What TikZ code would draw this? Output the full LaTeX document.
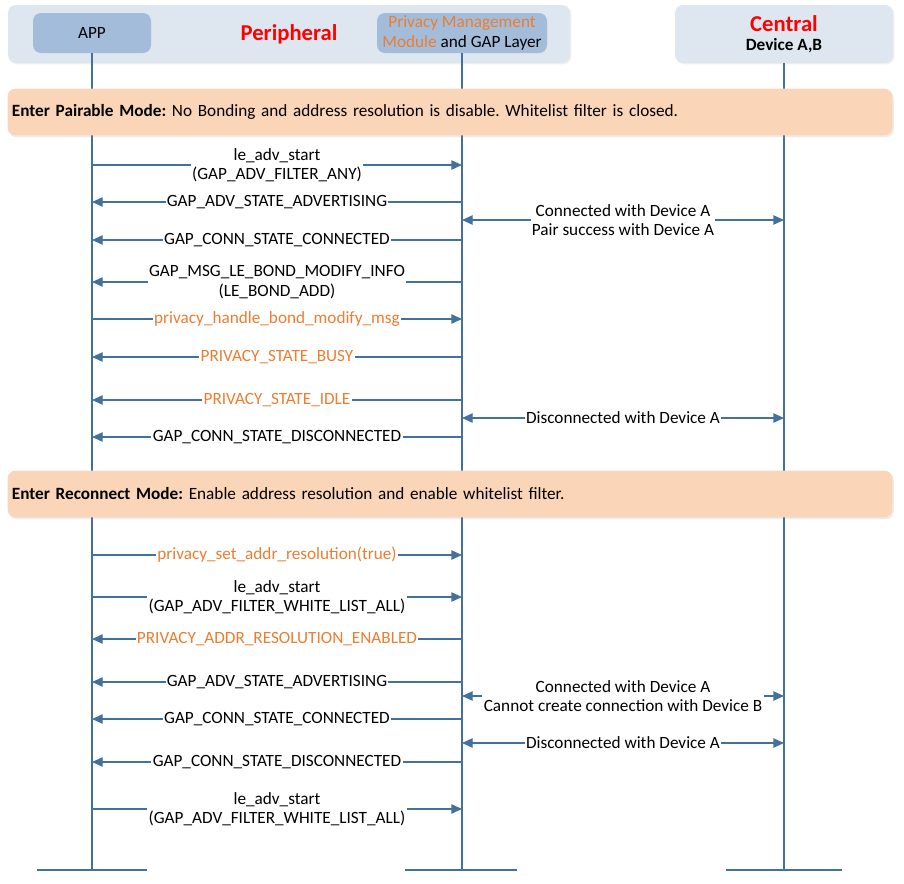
\documentclass[tikz,border=0pt]{standalone}
\usepackage{fontspec}
\setmainfont{Carlito}
\usetikzlibrary{arrows.meta,shadows}
\definecolor{steelline}{HTML}{41719C}
\definecolor{headfill}{HTML}{DEE6EF}
\definecolor{actorfill}{HTML}{A3BCD9}
\definecolor{peach}{HTML}{FAD5B8}
\definecolor{privorange}{HTML}{ED7D31}
\frenchspacing

\begin{document}
\begin{tikzpicture}[x=0.75pt,y=-0.75pt,font=\fontsize{12.9}{14.6}\selectfont,
	life/.style={draw=steelline,line width=1pt},
	msg/.style={draw=steelline,line width=1pt,-{Triangle[length=8pt,width=7pt]}},
	both/.style={msg,{Triangle[length=8pt,width=7pt]}-{Triangle[length=8pt,width=7pt]}},
	lbl/.style={fill=white,inner xsep=1pt,inner ysep=0pt,align=center},
	priv/.style={lbl,text=privorange},
	header/.style={rounded corners=6pt,fill=headfill,minimum height=43.5pt,align=center,
		drop shadow={opacity=0.12,shadow xshift=1pt,shadow yshift=-1pt}},
	actor/.style={rounded corners=6pt,fill=actorfill,minimum width=88.5pt,minimum height=30pt,align=center,inner sep=1pt},
	mode/.style={rounded corners=6pt,fill=peach,minimum width=663pt,minimum height=35pt,text width=657pt,align=left,
		drop shadow={opacity=0.15,shadow xshift=1pt,shadow yshift=-1.5pt}},
	title/.style={text=red,font=\fontsize{17}{20}\selectfont\bfseries}]
	\useasboundingbox (0,0) rectangle (904,883);
	\node[header,minimum width=421.5pt,title] (peri) at (289,34) {Peripheral};
	\node[header,minimum width=163.5pt] (central) at (784,34) {{\fontsize{17}{20}\selectfont\bfseries\color{red}Central}\\[0pt]\bfseries Device A,B};
	\node[actor] (app) at (92,33) {APP};
	\node[actor,minimum width=127.5pt] (pmm) at (462,33) {\textcolor{privorange}{Privacy Management}\\\textcolor{privorange}{Module} and GAP Layer};
	\coordinate (append) at (app |- 0,870);
	\coordinate (pmmend) at (pmm |- 0,870);
	\coordinate (centralend) at (central |- 0,870);
	\draw[life] (app.south) -- (append);
	\draw[life] (pmm.south) -- (pmmend);
	\draw[life] (central.south) -- (centralend);
	\draw[life] (append) ++(-55,0) -- ++(110,0);
	\draw[life] (pmmend) ++(-57,0) -- ++(112,0);
	\draw[life] (centralend) ++(-58,0) -- ++(116,0);
	\node[mode] (pairable) at (450,112) {\textbf{Enter Pairable Mode:} No Bonding and address resolution is disable. Whitelist filter is closed.};
	\node[mode] (reconnect) at (450,494) {\textbf{Enter Reconnect Mode:} Enable address resolution and enable whitelist filter.};
	\draw[msg] (app |- 0,165) -- node[lbl] {le\_adv\_start\\(GAP\_ADV\_FILTER\_ANY)} (pmm |- 0,165);
	\draw[msg] (pmm |- 0,202) -- node[lbl] {GAP\_ADV\_STATE\_ADVERTISING} (app |- 0,202);
	\draw[both] (pmm |- 0,220) -- node[lbl] {Connected with Device A\\Pair success with Device A} (central |- 0,220);
	\draw[msg] (pmm |- 0,240) -- node[lbl] {GAP\_CONN\_STATE\_CONNECTED} (app |- 0,240);
	\draw[msg] (pmm |- 0,282) -- node[lbl] {GAP\_MSG\_LE\_BOND\_MODIFY\_INFO\\(LE\_BOND\_ADD)} (app |- 0,282);
	\draw[msg] (app |- 0,319) -- node[priv] {privacy\_handle\_bond\_modify\_msg} (pmm |- 0,319);
	\draw[msg] (pmm |- 0,357) -- node[priv] {PRIVACY\_STATE\_BUSY} (app |- 0,357);
	\draw[msg] (pmm |- 0,400) -- node[priv] {PRIVACY\_STATE\_IDLE} (app |- 0,400);
	\draw[both] (pmm |- 0,418) -- node[lbl] {Disconnected with Device A} (central |- 0,418);
	\draw[msg] (pmm |- 0,437) -- node[lbl] {GAP\_CONN\_STATE\_DISCONNECTED} (app |- 0,437);
	\draw[msg] (app |- 0,555) -- node[priv] {privacy\_set\_addr\_resolution(true)} (pmm |- 0,555);
	\draw[msg] (app |- 0,597) -- node[lbl] {le\_adv\_start\\(GAP\_ADV\_FILTER\_WHITE\_LIST\_ALL)} (pmm |- 0,597);
	\draw[msg] (pmm |- 0,639) -- node[priv] {PRIVACY\_ADDR\_RESOLUTION\_ENABLED} (app |- 0,639);
	\draw[msg] (pmm |- 0,682) -- node[lbl] {GAP\_ADV\_STATE\_ADVERTISING} (app |- 0,682);
	\draw[both] (pmm |- 0,696) -- node[lbl] {Connected with Device A\\Cannot create connection with Device B} (central |- 0,696);
	\draw[msg] (pmm |- 0,719) -- node[lbl] {GAP\_CONN\_STATE\_CONNECTED} (app |- 0,719);
	\draw[both] (pmm |- 0,743) -- node[lbl] {Disconnected with Device A} (central |- 0,743);
	\draw[msg] (pmm |- 0,762) -- node[lbl] {GAP\_CONN\_STATE\_DISCONNECTED} (app |- 0,762);
	\draw[msg] (app |- 0,809) -- node[lbl] {le\_adv\_start\\(GAP\_ADV\_FILTER\_WHITE\_LIST\_ALL)} (pmm |- 0,809);
\end{tikzpicture}
\end{document}
